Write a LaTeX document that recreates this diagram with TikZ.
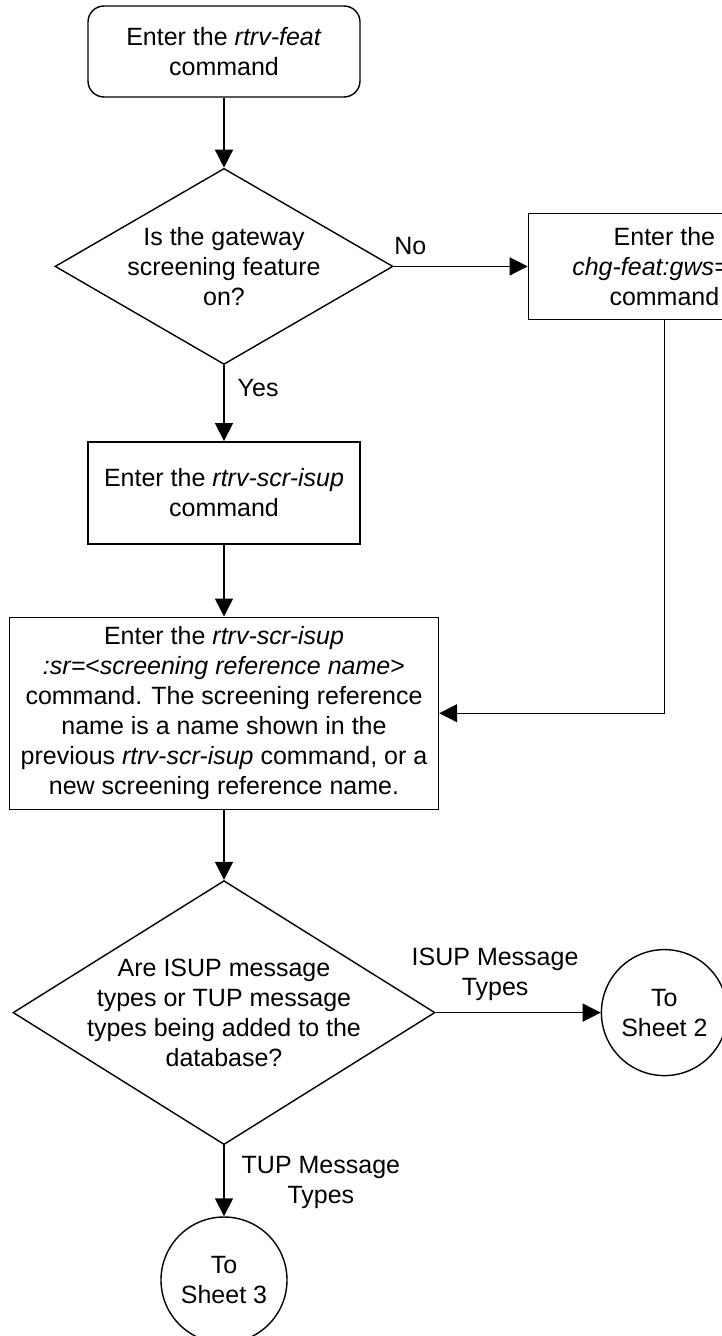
\documentclass[tikz,border=0pt]{standalone}
\usepackage{fontspec}
\setmainfont{Liberation Sans}
\usetikzlibrary{arrows.meta, positioning, shapes.geometric}

\begin{document}
\begin{tikzpicture}[
      x=1pt, y=-1pt,
      every node/.style={font=\fontsize{25}{30}\selectfont},
      box/.style={draw, line width=1.4pt, minimum width=272pt,
        minimum height=102pt, align=center, inner sep=2pt},
      decision/.style={diamond, draw, line width=1.4pt, inner sep=0pt},
      sheet/.style={circle, draw, line width=1.4pt, minimum size=126pt,
        inner sep=0pt, align=center},
      tag/.style={inner sep=0pt, align=center},
      flow/.style={-{Triangle[length=18pt, width=18pt]}, line width=1.4pt}
    ]
      \useasboundingbox (0,0) rectangle (722,1336);
      \clip (0,0) rectangle (722,1336);
      \fill[white] (0,0) rectangle (722,1336);

      % main column
      \node[box, rounded corners=16pt, minimum height=91pt] (feat) at (224,51.5)
        {Enter the \textit{rtrv-feat}\\command};
      \node[decision, minimum width=338pt, minimum height=196pt,
        below=70pt of feat] (gwsq) {};
      \node[tag] at (gwsq) {Is the gateway\\screening feature\\on?};
      \node[box, below=76pt of gwsq] (scrisup)
        {Enter the \textit{rtrv-scr-isup}\\command};
      \node[box, minimum width=429pt, minimum height=192pt,
        below=72pt of scrisup] (scrsr)
        {Enter the \textit{rtrv-scr-isup}\\
         \textit{:sr=}<\textit{screening reference name}>\\
         command. The screening reference\\
         name is a name shown in the\\
         previous \textit{rtrv-scr-isup} command, or a\\
         new screening reference name.};
      \node[decision, minimum width=422pt, minimum height=264pt,
        below=70pt of scrsr] (msgq) {};
      \node[tag] at (msgq)
        {Are ISUP message\\types or TUP message\\types being added to the\\database?};
      \node[sheet, below=71pt of msgq] (sheetthree) {To\\Sheet 3};

      % right column
      \node[box, minimum height=106pt, right=134pt of gwsq] (gwson)
        {Enter the\\\textit{chg-feat:gws=on}\\command};
      \node[sheet, right=165pt of msgq] (sheettwo) {To\\Sheet 2};

      \draw[flow] (feat) -- (gwsq);
      \draw[flow] (gwsq.east) --
        node[tag, pos=0, above right=11pt and 0pt] {No} (gwson.west);
      \draw[flow] (gwsq.south) --
        node[tag, pos=0.3, right=13pt] {Yes} (scrisup.north);
      \draw[flow] (scrisup) -- (scrsr);
      \draw[flow] (gwson.south) |- (scrsr.east);
      \draw[flow] (scrsr) -- (msgq);
      \draw[flow] (msgq.east) --
        node[tag, pos=0.36, above=11pt] {ISUP Message\\Types} (sheettwo.west);
      \draw[flow] (msgq.south) --
        node[tag, pos=0.53, right=17pt] {TUP Message\\Types} (sheetthree.north);
    \end{tikzpicture}
\end{document}
